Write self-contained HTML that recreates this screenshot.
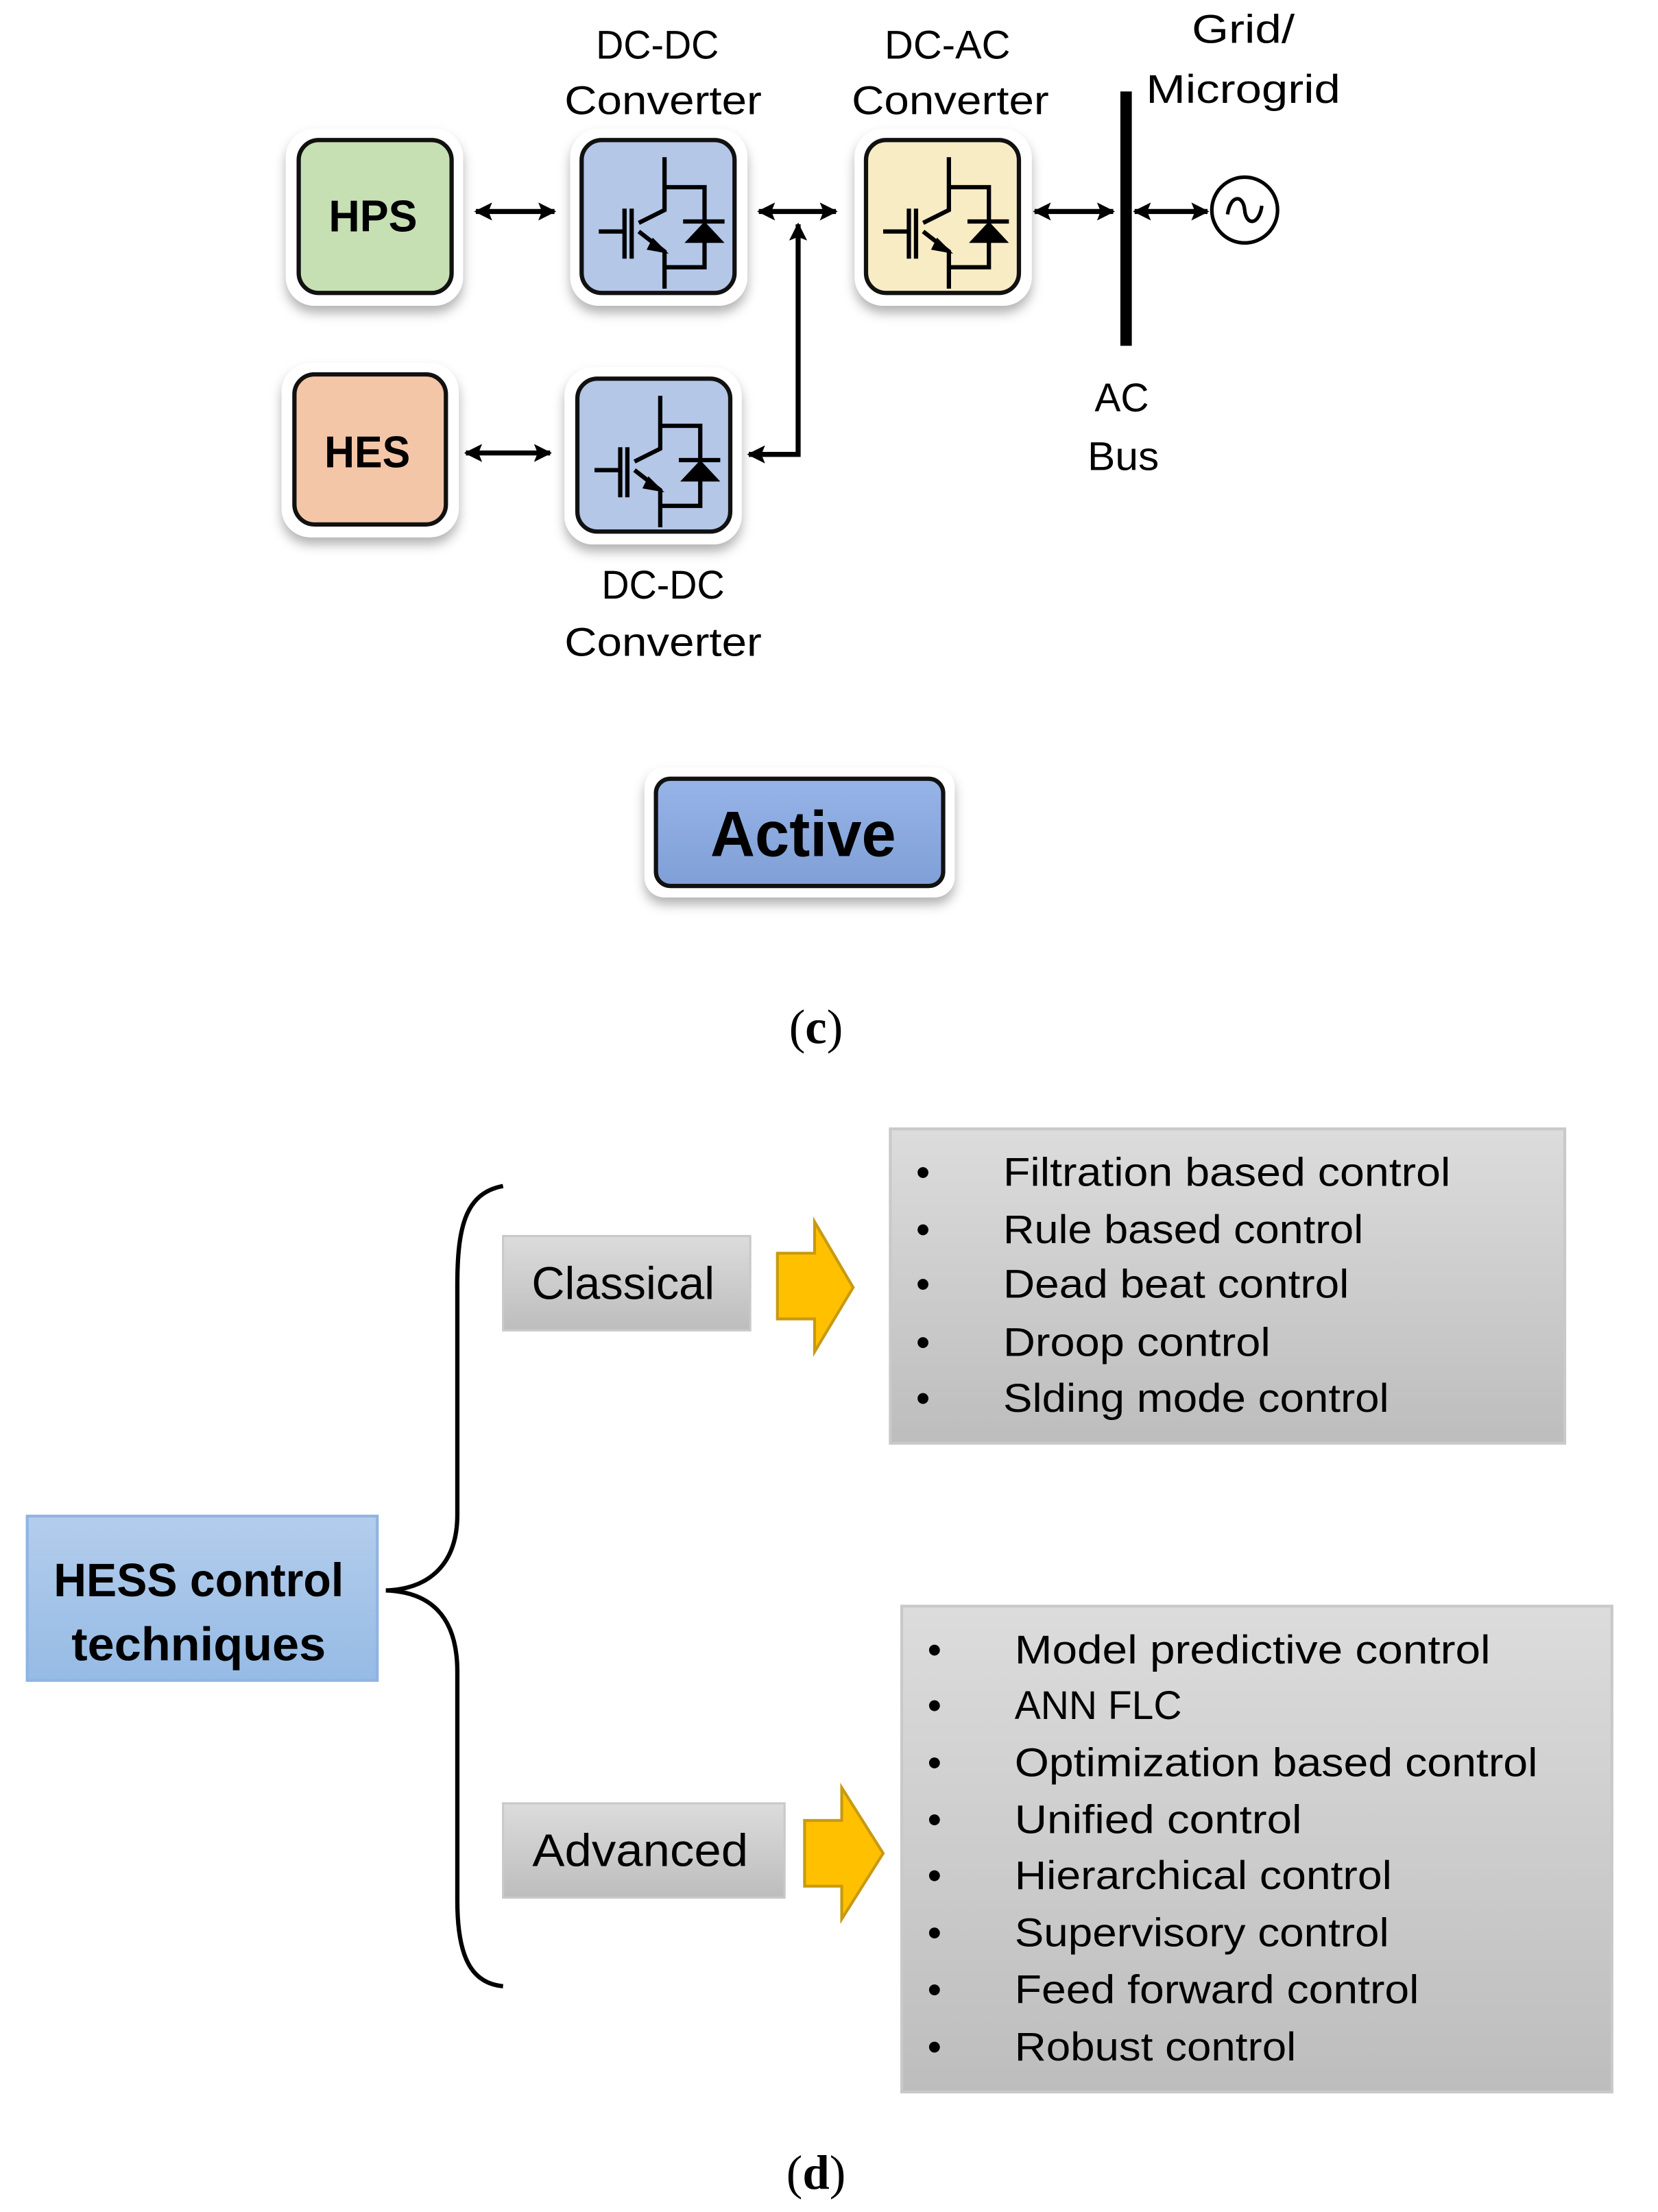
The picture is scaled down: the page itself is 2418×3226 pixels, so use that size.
<!DOCTYPE html>
<html><head><meta charset="utf-8"><style>
html,body{margin:0;padding:0;background:#fff;}
svg{display:block;}
text{font-family:"Liberation Sans",sans-serif;fill:#000;}
</style></head><body>
<svg width="2418" height="3226" viewBox="0 0 1160.2 1548" xmlns="http://www.w3.org/2000/svg">
<defs>
<filter id="sh" x="-30%" y="-30%" width="160%" height="170%"><feDropShadow dx="0" dy="5" stdDeviation="4" flood-color="#000" flood-opacity="0.3"/></filter>
<linearGradient id="gg" x1="0" y1="0" x2="0" y2="1"><stop offset="0" stop-color="#dcdcdc"/><stop offset="1" stop-color="#bdbdbd"/></linearGradient>
<linearGradient id="bg" x1="0" y1="0" x2="0" y2="1"><stop offset="0" stop-color="#b3cdec"/><stop offset="1" stop-color="#96bbe5"/></linearGradient>
<linearGradient id="ag" x1="0" y1="0" x2="0" y2="1"><stop offset="0" stop-color="#97b4e8"/><stop offset="1" stop-color="#7f9fd6"/></linearGradient>
<marker id="ah" viewBox="0 0 10 10" refX="9" refY="5" markerWidth="3.6" markerHeight="3.6" orient="auto-start-reverse"><path d="M0,0 L10,5 L0,10 L2,5 z" fill="#000"/></marker>
<g id="igbt" fill="none" stroke="#000" stroke-width="3">
<path d="M58,12 V49 L40,58"/>
<path d="M58,33 H86 V89 H58"/>
<path d="M40,64 L58,78 V104"/>
<path d="M30,48 V83 M35,48 V83 M12,64 H30"/>
<path d="M71,57 H100"/>
<polygon points="86,57 72,72 100,72" fill="#000" stroke="none"/>
<polygon points="50,70 58,78 47,76" fill="#000" stroke="#000" stroke-width="2"/>
</g>
</defs>

<g font-size="28" text-anchor="middle" fill="#222">
<text x="460" y="41" textLength="86" lengthAdjust="spacingAndGlyphs">DC-DC</text>
<text x="464" y="80" textLength="138" lengthAdjust="spacingAndGlyphs">Converter</text>
<text x="663" y="41" textLength="88" lengthAdjust="spacingAndGlyphs">DC-AC</text>
<text x="665" y="80" textLength="138" lengthAdjust="spacingAndGlyphs">Converter</text>
<text x="870" y="30" textLength="72" lengthAdjust="spacingAndGlyphs">Grid/</text>
<text x="870" y="72" textLength="136" lengthAdjust="spacingAndGlyphs">Microgrid</text>
<text x="785" y="288" textLength="38" lengthAdjust="spacingAndGlyphs">AC</text>
<text x="786" y="329" textLength="50" lengthAdjust="spacingAndGlyphs">Bus</text>
<text x="464" y="419" textLength="86" lengthAdjust="spacingAndGlyphs">DC-DC</text>
<text x="464" y="459" textLength="138" lengthAdjust="spacingAndGlyphs">Converter</text>
</g>

<g filter="url(#sh)">
<rect x="200" y="90" width="124" height="124" rx="20" fill="#fff"/>
<rect x="399" y="90" width="124" height="124" rx="20" fill="#fff"/>
<rect x="598" y="90" width="124" height="124" rx="20" fill="#fff"/>
<rect x="197" y="254" width="124" height="122" rx="20" fill="#fff"/>
<rect x="395" y="257" width="124" height="124" rx="20" fill="#fff"/>
<rect x="451" y="537" width="217" height="91" rx="14" fill="#fff"/>
</g>
<g stroke="#111" stroke-width="3">
<rect x="209" y="98" width="107" height="107" rx="14" fill="#c6e0b4"/>
<rect x="407" y="98" width="107" height="107" rx="14" fill="#b4c7e7"/>
<rect x="606" y="98" width="107" height="107" rx="14" fill="#f8ecc5"/>
<rect x="206" y="262" width="106" height="105" rx="14" fill="#f4c6a8"/>
<rect x="404" y="265" width="107" height="107" rx="14" fill="#b4c7e7"/>
<rect x="459" y="545" width="201" height="75" rx="10" fill="url(#ag)"/>
</g>
<use href="#igbt" x="407" y="98"/>
<use href="#igbt" x="606" y="98"/>
<use href="#igbt" x="404" y="265"/>
<text x="261" y="162" font-size="31" font-weight="bold" text-anchor="middle" textLength="62" lengthAdjust="spacingAndGlyphs">HPS</text>
<text x="257" y="327" font-size="31" font-weight="bold" text-anchor="middle" textLength="60" lengthAdjust="spacingAndGlyphs">HES</text>
<text x="562" y="599" font-size="45" font-weight="bold" text-anchor="middle" textLength="130" lengthAdjust="spacingAndGlyphs">Active</text>

<g stroke="#000" stroke-width="3.5" fill="none">
<line x1="333" y1="148" x2="388" y2="148" marker-start="url(#ah)" marker-end="url(#ah)"/>
<line x1="531" y1="148" x2="585" y2="148" marker-start="url(#ah)" marker-end="url(#ah)"/>
<line x1="724" y1="148" x2="779" y2="148" marker-start="url(#ah)" marker-end="url(#ah)"/>
<line x1="794" y1="148" x2="845" y2="148" marker-start="url(#ah)" marker-end="url(#ah)"/>
<line x1="326" y1="317" x2="385" y2="317" marker-start="url(#ah)" marker-end="url(#ah)"/>
<polyline points="558.5,157 558.5,318 524,318" marker-start="url(#ah)" marker-end="url(#ah)"/>
<circle cx="871" cy="147" r="23" stroke-width="2.5"/>
<path d="M859,150 C861,136 870,136 871,147 C872,158 881,158 883,144" stroke-width="2.5"/>
</g>
<rect x="784" y="64" width="8" height="178" fill="#000"/>

<text x="571" y="730" font-size="34" text-anchor="middle" style="font-family:'Liberation Serif',serif">(<tspan font-weight="bold">c</tspan>)</text>

<rect x="19" y="1061" width="245" height="115" fill="url(#bg)" stroke="#8fb4e3" stroke-width="2"/>
<text x="139" y="1117" font-size="33" font-weight="bold" text-anchor="middle" textLength="203" lengthAdjust="spacingAndGlyphs">HESS control</text>
<text x="139" y="1162" font-size="33" font-weight="bold" text-anchor="middle" textLength="178" lengthAdjust="spacingAndGlyphs">techniques</text>

<path d="M352,830 C325,835 320,860 320,900 L320,1060 C320,1095 300,1112 270,1113 C300,1114 320,1130 320,1170 L320,1330 C320,1370 330,1388 352,1390" fill="none" stroke="#000" stroke-width="3"/>

<rect x="352" y="865" width="173" height="66" fill="url(#gg)" stroke="#c9c9c9" stroke-width="1.5"/>
<text x="436" y="909" font-size="32" text-anchor="middle" fill="#222" textLength="128" lengthAdjust="spacingAndGlyphs">Classical</text>
<rect x="352" y="1262" width="197" height="66" fill="url(#gg)" stroke="#c9c9c9" stroke-width="1.5"/>
<text x="448" y="1306" font-size="32" text-anchor="middle" fill="#222" textLength="151" lengthAdjust="spacingAndGlyphs">Advanced</text>

<path d="M544,877 H570 V855 L597,901 L570,946 V923 H544 Z" fill="#ffc000" stroke="#c89a10" stroke-width="2"/>
<path d="M563,1274 H589 V1251 L618,1297 L589,1343 V1320 H563 Z" fill="#ffc000" stroke="#c89a10" stroke-width="2"/>

<rect x="623" y="790" width="472" height="220" fill="url(#gg)" stroke="#c9c9c9" stroke-width="2"/>
<g font-size="28" fill="#222">
<text x="641" y="830">•</text><text x="702" y="830" textLength="313" lengthAdjust="spacingAndGlyphs">Filtration based control</text>
<text x="641" y="870">•</text><text x="702" y="870" textLength="252" lengthAdjust="spacingAndGlyphs">Rule based control</text>
<text x="641" y="908">•</text><text x="702" y="908" textLength="242" lengthAdjust="spacingAndGlyphs">Dead beat control</text>
<text x="641" y="949">•</text><text x="702" y="949" textLength="187" lengthAdjust="spacingAndGlyphs">Droop control</text>
<text x="641" y="988">•</text><text x="702" y="988" textLength="270" lengthAdjust="spacingAndGlyphs">Slding mode control</text>
</g>

<rect x="631" y="1124" width="497" height="340" fill="url(#gg)" stroke="#c9c9c9" stroke-width="2"/>
<g font-size="28" fill="#222">
<text x="649" y="1164">•</text><text x="710" y="1164" textLength="333" lengthAdjust="spacingAndGlyphs">Model predictive control</text>
<text x="649" y="1203">•</text><text x="710" y="1203" textLength="117" lengthAdjust="spacingAndGlyphs">ANN FLC</text>
<text x="649" y="1243">•</text><text x="710" y="1243" textLength="366" lengthAdjust="spacingAndGlyphs">Optimization based control</text>
<text x="649" y="1283">•</text><text x="710" y="1283" textLength="201" lengthAdjust="spacingAndGlyphs">Unified control</text>
<text x="649" y="1322">•</text><text x="710" y="1322" textLength="264" lengthAdjust="spacingAndGlyphs">Hierarchical control</text>
<text x="649" y="1362">•</text><text x="710" y="1362" textLength="262" lengthAdjust="spacingAndGlyphs">Supervisory control</text>
<text x="649" y="1402">•</text><text x="710" y="1402" textLength="283" lengthAdjust="spacingAndGlyphs">Feed forward control</text>
<text x="649" y="1442">•</text><text x="710" y="1442" textLength="197" lengthAdjust="spacingAndGlyphs">Robust control</text>
</g>

<text x="571" y="1532" font-size="34" text-anchor="middle" style="font-family:'Liberation Serif',serif">(<tspan font-weight="bold">d</tspan>)</text>
</svg>
</body></html>
